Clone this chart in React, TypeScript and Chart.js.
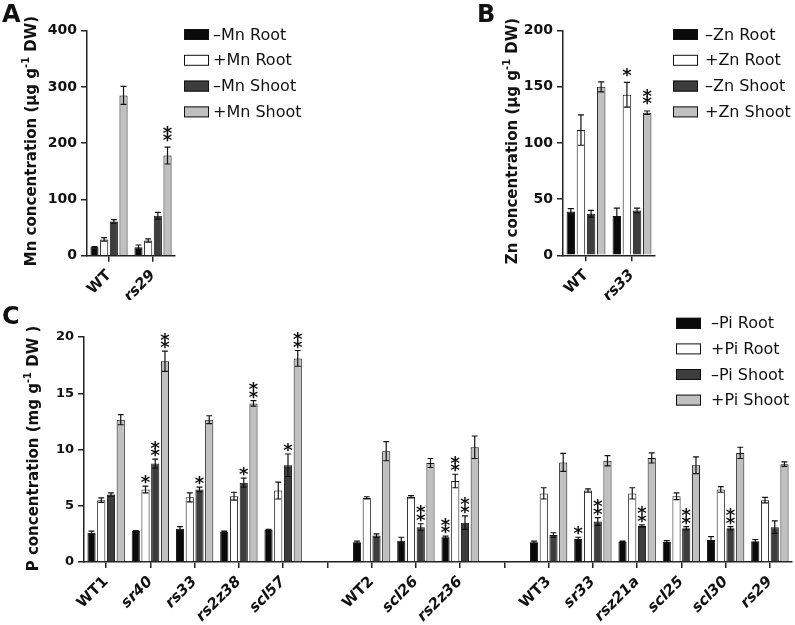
import React, { useEffect, useRef } from 'react';
import { Chart, registerables } from 'chart.js';

Chart.register(...registerables);

const FONT = '"DejaVu Sans", sans-serif';
const BAR_COLORS = ['#0a0a0a', '#ffffff', '#3d3d3d', '#c0c0c0'];

// ---------- Panel A (Mn) ----------
const aCategories = ['WT', 'rs29'];
const aSeriesNames = ['–Mn Root', '+Mn Root', '–Mn Shoot', '+Mn Shoot'];
const aMinusRoot = [15, 15];
const aMinusRootErr = [1, 4];
const aPlusRoot = [29, 27];
const aPlusRootErr = [3, 3];
const aMinusShoot = [61, 71];
const aMinusShootErr = [3, 6];
const aPlusShoot = [285, 178];
const aPlusShootErr = [16, 15];
const aPlusShootStars = ['', '**'];
const aTicks = { max: 400, step: 100 };

// ---------- Panel B (Zn) ----------
const bCategories = ['WT', 'rs33'];
const bSeriesNames = ['–Zn Root', '+Zn Root', '–Zn Shoot', '+Zn Shoot'];
const bMinusRoot = [39, 35];
const bMinusRootErr = [2.5, 7];
const bPlusRoot = [111.5, 143];
const bPlusRootErr = [13.5, 11];
const bPlusRootStars = ['', '*'];
const bMinusShoot = [37, 40];
const bMinusShootErr = [3, 2];
const bPlusShoot = [150, 127];
const bPlusShootErr = [4.5, 1.5];
const bPlusShootStars = ['', '**'];
const bTicks = { max: 200, step: 50 };

// ---------- Panel C (P) ----------
const cCategories = ['WT1', 'sr40', 'rs33', 'rs2z38', 'scl57', '', 'WT2', 'scl26', 'rs2z36', '', 'WT3', 'sr33', 'rsz21a', 'scl25', 'scl30', 'rs29'];
const cSeriesNames = ['–Pi Root', '+Pi Root', '–Pi Shoot', '+Pi Shoot'];
const cMinusRoot = [2.6, 2.75, 2.95, 2.7, 2.85, null, 1.75, 1.9, 2.2, null, 1.75, 2.05, 1.8, 1.8, 1.95, 1.85];
const cMinusRootErr = [0.15, 0.05, 0.2, 0.05, 0.05, null, 0.1, 0.3, 0.1, null, 0.1, 0.15, 0.05, 0.1, 0.3, 0.15];
const cMinusRootStars = ['', '', '', '', '', '', '', '', '**', '', '', '*', '', '', '', ''];
const cPlusRoot = [5.5, 6.45, 5.75, 5.85, 6.35, null, 5.7, 5.8, 7.2, null, 6.1, 6.35, 6.1, 5.85, 6.45, 5.5];
const cPlusRootErr = [0.2, 0.3, 0.4, 0.35, 0.75, null, 0.1, 0.1, 0.6, null, 0.5, 0.15, 0.5, 0.3, 0.25, 0.25];
const cPlusRootStars = ['', '*', '', '', '', '', '', '', '**', '', '', '', '', '', '', ''];
const cMinusShoot = [6.0, 8.75, 6.45, 7.05, 8.6, null, 2.35, 3.1, 3.5, null, 2.4, 3.6, 3.2, 3.0, 3.0, 3.1];
const cMinusShootErr = [0.15, 0.4, 0.2, 0.4, 1.0, null, 0.15, 0.3, 0.6, null, 0.2, 0.35, 0.1, 0.15, 0.15, 0.55];
const cMinusShootStars = ['', '**', '*', '*', '*', '', '', '**', '**', '', '', '**', '**', '**', '**', ''];
const cPlusShoot = [12.65, 17.85, 12.65, 14.1, 18.1, null, 9.85, 8.8, 10.2, null, 8.85, 9.0, 9.25, 8.6, 9.7, 8.7];
const cPlusShootErr = [0.45, 0.9, 0.35, 0.25, 0.7, null, 0.85, 0.4, 1.0, null, 0.8, 0.45, 0.45, 0.75, 0.5, 0.2];
const cPlusShootStars = ['', '**', '', '**', '**', '', '', '', '', '', '', '', '', '', '', ''];
const cTicks = { max: 20, step: 5 };

// ---------- plugins ----------
const errorBarPlugin = {
  id: 'errorBars',
  afterDatasetsDraw(chart: any, _args: any, opts: any) {
    const ctx = chart.ctx;
    const yScale = chart.scales.y;
    chart.data.datasets.forEach((ds: any, di: number) => {
      const meta = chart.getDatasetMeta(di);
      meta.data.forEach((el: any, j: number) => {
        const v = ds.data[j];
        if (v == null) return;
        const e = (ds.errors && ds.errors[j]) || 0;
        const top = yScale.getPixelForValue(v + e);
        const bot = yScale.getPixelForValue(v - e);
        const half = Math.max(2.5, el.width * 0.36);
        ctx.save();
        ctx.strokeStyle = '#111';
        ctx.lineWidth = 1.2;
        if (e > 0) {
          ctx.beginPath();
          ctx.moveTo(el.x, top);
          ctx.lineTo(el.x, bot);
          ctx.moveTo(el.x - half, top);
          ctx.lineTo(el.x + half, top);
          ctx.moveTo(el.x - half, bot);
          ctx.lineTo(el.x + half, bot);
          ctx.stroke();
        }
        const s = ds.stars ? ds.stars[j] : '';
        if (s) {
          ctx.fillStyle = '#111';
          ctx.font = `bold 18px ${FONT}`;
          ctx.textAlign = 'center';
          ctx.textBaseline = 'alphabetic';
          const m = ctx.measureText('*');
          const c = (m.actualBoundingBoxAscent - m.actualBoundingBoxDescent) / 2;
          for (let k = 0; k < s.length; k++) {
            const cy = top - opts.offset - k * opts.step;
            ctx.fillText('*', el.x, cy + c);
          }
        }
        ctx.restore();
      });
    });
  },
};

const boxLegendPlugin = {
  id: 'boxLegend',
  afterDraw(chart: any, _args: any, opts: any) {
    const ctx = chart.ctx;
    ctx.save();
    chart.data.datasets.forEach((ds: any, i: number) => {
      const cy = opts.y + i * opts.gap;
      ctx.fillStyle = ds.backgroundColor;
      ctx.fillRect(opts.x, cy - opts.boxH / 2, opts.boxW, opts.boxH);
      ctx.strokeStyle = '#111';
      ctx.lineWidth = 1;
      ctx.strokeRect(opts.x + 0.5, cy - opts.boxH / 2 + 0.5, opts.boxW - 1, opts.boxH - 1);
      ctx.fillStyle = '#111';
      ctx.font = `16px ${FONT}`;
      ctx.textAlign = 'left';
      ctx.textBaseline = 'middle';
      ctx.fillText(ds.label, opts.textX, cy + 1);
    });
    ctx.restore();
  },
};

const yTitlePlugin = {
  id: 'yTitle',
  afterDraw(chart: any, _args: any, opts: any) {
    const ctx = chart.ctx;
    const main = `bold 15px ${FONT}`;
    const sup = `bold 10px ${FONT}`;
    const parts = opts.parts as { t: string; sup?: boolean }[];
    let total = 0;
    parts.forEach((p) => {
      ctx.font = p.sup ? sup : main;
      total += ctx.measureText(p.t).width;
    });
    ctx.save();
    ctx.translate(opts.x, opts.y);
    ctx.rotate(-Math.PI / 2);
    ctx.fillStyle = '#111';
    ctx.textBaseline = 'middle';
    ctx.textAlign = 'left';
    let x = -total / 2;
    parts.forEach((p) => {
      ctx.font = p.sup ? sup : main;
      ctx.fillText(p.t, x, p.sup ? -6 : 0);
      x += ctx.measureText(p.t).width;
    });
    ctx.restore();
  },
};

function makeDatasets(names: string[], vals: any[][], errs: any[][], stars: any[][]) {
  return names.map((n, i) => ({
    label: n,
    data: vals[i],
    errors: errs[i],
    stars: stars[i],
    backgroundColor: BAR_COLORS[i],
    borderColor: '#111',
    borderWidth: 1,
    categoryPercentage: 0.88,
    barPercentage: 0.84,
  }));
}

function makeConfig(p: any) {
  const labels: string[] = p.labels;
  return {
    type: 'bar',
    data: { labels, datasets: p.datasets },
    plugins: [errorBarPlugin, boxLegendPlugin, yTitlePlugin],
    options: {
      responsive: false,
      animation: false,
      layout: { padding: { left: 0, right: p.w - p.area.right, top: p.area.top, bottom: 0 } },
      plugins: {
        legend: { display: false },
        tooltip: { enabled: false },
        errorBars: p.stars,
        boxLegend: p.legend,
        yTitle: p.title,
      },
      scales: {
        x: {
          type: 'category',
          offset: true,
          grid: { display: true, offset: false, drawOnChartArea: false, drawTicks: true, tickLength: 6, color: '#222', lineWidth: 1.5 },
          border: { display: true, color: '#222', width: 1.5 },
          ticks: {
            autoSkip: false,
            minRotation: 45,
            maxRotation: 45,
            padding: 5,
            color: '#111',
            font: (ctx: any) => {
              const lab = labels[ctx.index] || '';
              return { family: FONT, size: 15, weight: 'bold', style: lab.startsWith('WT') ? 'normal' : 'italic' };
            },
          },
          afterFit: (s: any) => { s.height = p.h - p.area.bottom; },
        },
        y: {
          min: 0,
          max: p.ticks.max,
          grid: { display: true, drawOnChartArea: false, drawTicks: true, tickLength: 6, color: '#222', lineWidth: 1.5 },
          border: { display: true, color: '#222', width: 1.5 },
          ticks: { stepSize: p.ticks.step, padding: 4, color: '#111', font: { family: FONT, size: p.tickSize, weight: 'bold' } },
          afterFit: (s: any) => { s.width = p.area.left; },
        },
      },
    },
  };
}

function ChartCanvas({ cfg, left, top }: any) {
  const ref = useRef<HTMLCanvasElement>(null);
  useEffect(() => {
    const chart = new Chart(ref.current as HTMLCanvasElement, makeConfig(cfg) as any);
    return () => chart.destroy();
  }, []);
  return (
    <canvas
      ref={ref}
      width={cfg.w}
      height={cfg.h}
      style={{ position: 'absolute', left, top, width: cfg.w, height: cfg.h }}
    />
  );
}

const panelA = {
  w: 400, h: 300,
  labels: aCategories,
  datasets: makeDatasets(
    aSeriesNames,
    [aMinusRoot, aPlusRoot, aMinusShoot, aPlusShoot],
    [aMinusRootErr, aPlusRootErr, aMinusShootErr, aPlusShootErr],
    [[], [], [], aPlusShootStars]
  ),
  area: { left: 87, right: 175, top: 30.7, bottom: 255.7 },
  ticks: aTicks,
  tickSize: 14,
  stars: { offset: 9.5, step: 7.5 },
  legend: { x: 184, y: 34.5, gap: 25.8, boxW: 25, boxH: 11, textX: 213 },
  title: { x: 32.5, y: 141, parts: [{ t: 'Mn concentration (µg g' }, { t: '-1', sup: true }, { t: ' DW)' }] },
};

const panelB = {
  w: 395, h: 300,
  labels: bCategories,
  datasets: makeDatasets(
    bSeriesNames,
    [bMinusRoot, bPlusRoot, bMinusShoot, bPlusShoot],
    [bMinusRootErr, bPlusRootErr, bMinusShootErr, bPlusShootErr],
    [[], bPlusRootStars, [], bPlusShootStars]
  ),
  area: { left: 163, right: 255, top: 30.7, bottom: 255.3 },
  ticks: bTicks,
  tickSize: 14,
  stars: { offset: 10, step: 7.5 },
  legend: { x: 273, y: 34.5, gap: 25.8, boxW: 25, boxH: 11, textX: 305 },
  title: { x: 113, y: 141, parts: [{ t: 'Zn concentration (µg g' }, { t: '-1', sup: true }, { t: ' DW)' }] },
};

const panelC = {
  w: 795, h: 335,
  labels: cCategories,
  datasets: makeDatasets(
    cSeriesNames,
    [cMinusRoot, cPlusRoot, cMinusShoot, cPlusShoot],
    [cMinusRootErr, cPlusRootErr, cMinusShootErr, cPlusShootErr],
    [cMinusRootStars, cPlusRootStars, cMinusShootStars, cPlusShootStars]
  ),
  area: { left: 84, right: 792, top: 47, bottom: 272 },
  ticks: cTicks,
  tickSize: 13,
  stars: { offset: 6.5, step: 7.5 },
  legend: { x: 676, y: 33.3, gap: 25.6, boxW: 25, boxH: 11, textX: 711 },
  title: { x: 34.5, y: 158.5, parts: [{ t: 'P concentration (mg g' }, { t: '-1', sup: true }, { t: ' DW )' }] },
};

const letterStyle: React.CSSProperties = {
  position: 'absolute',
  fontFamily: FONT,
  fontWeight: 'bold',
  fontSize: 24,
  lineHeight: '24px',
  color: '#111',
};

export default function App() {
  return (
    <div style={{ position: 'fixed', left: 0, top: 0, width: 795, height: 625, background: '#fff', overflow: 'hidden' }}>
      <ChartCanvas cfg={panelA} left={0} top={0} />
      <ChartCanvas cfg={panelB} left={400} top={0} />
      <ChartCanvas cfg={panelC} left={0} top={290} />
      <div style={{ ...letterStyle, left: 2, top: 2 }}>A</div>
      <div style={{ ...letterStyle, left: 477, top: 2 }}>B</div>
      <div style={{ ...letterStyle, left: 2, top: 304 }}>C</div>
    </div>
  );
}
